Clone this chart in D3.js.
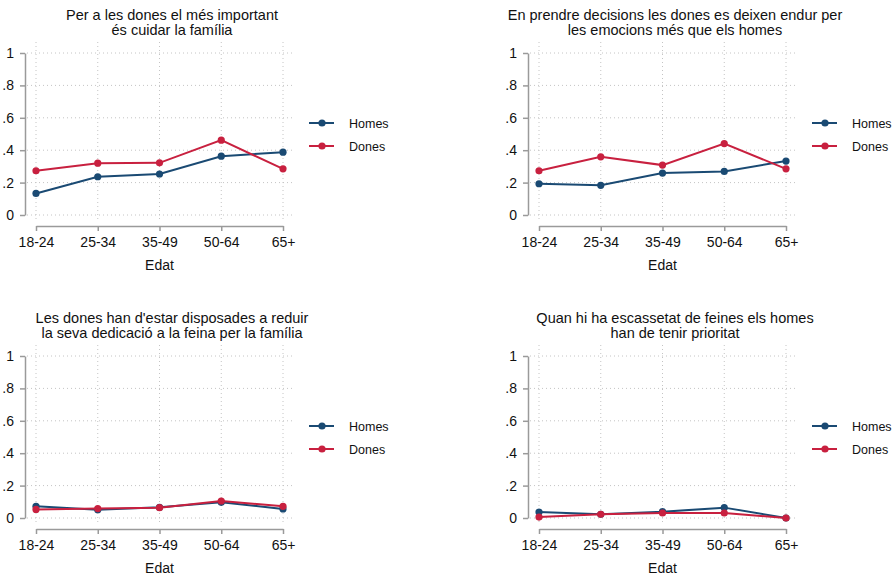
<!DOCTYPE html>
<html>
<head>
<meta charset="utf-8">
<script src="https://cdn.jsdelivr.net/npm/d3@7"></script>
<style>
  body { margin: 0; background: #fff; }
  text { font-family: "Liberation Sans", Arial, sans-serif; fill: #111; }
</style>
</head>
<body>
<svg id="chart" width="895" height="576"></svg>
<script>
// age groups and y ticks
var edats = ["18-24", "25-34", "35-49", "50-64", "65+"];
var yTicks = [0, 0.2, 0.4, 0.6, 0.8, 1];
var seriesNames = ["Homes", "Dones"];

var titles = [
  ["Per a les dones el més important", "és cuidar la família"],
  ["En prendre decisions les dones es deixen endur per", "les emocions més que els homes"],
  ["Les dones han d'estar disposades a reduir", "la seva dedicació a la feina per la família"],
  ["Quan hi ha escassetat de feines els homes", "han de tenir prioritat"]
];

// values
var homes = [
  [0.133, 0.236, 0.253, 0.363, 0.388],
  [0.193, 0.183, 0.259, 0.269, 0.333],
  [0.072, 0.051, 0.066, 0.097, 0.056],
  [0.037, 0.023, 0.039, 0.064, 0.000]
];
var dones = [
  [0.273, 0.320, 0.322, 0.462, 0.285],
  [0.273, 0.359, 0.308, 0.441, 0.285],
  [0.053, 0.058, 0.064, 0.105, 0.072],
  [0.006, 0.023, 0.031, 0.031, 0.000]
];

var colors = ["#1a4a73", "#c8203f"];
var axisGray = "#9a9a9a";

var svg = d3.select("#chart");

var x = d3.scalePoint().domain(edats).range([36, 283]);
var y = d3.scaleLinear().domain([0, 1]).range([215, 53]);

function fmt(d) {
  if (d === 0) return "0";
  if (d === 1) return "1";
  return String(d).replace(/^0/, "");
}

function drawPanel(i) {
  var dx = (i % 2) * 503, dy = Math.floor(i / 2) * 303;
  var g = svg.append("g").attr("transform", "translate(" + dx + "," + dy + ")");

  // title
  titles[i].forEach(function (line, k) {
    g.append("text")
      .attr("x", 172)
      .attr("y", 19.5 + k * 15.5)
      .attr("text-anchor", "middle")
      .style("font-size", "14.5px")
      .text(line);
  });

  // dotted grid
  g.append("g").selectAll("line.h")
    .data(yTicks)
    .enter().append("line")
    .attr("x1", 27).attr("x2", 292)
    .attr("y1", function (d) { return y(d); })
    .attr("y2", function (d) { return y(d); })
    .attr("stroke", "#c4c4c4")
    .attr("stroke-width", 1)
    .attr("stroke-dasharray", "1,3");
  g.append("g").selectAll("line.v")
    .data(edats)
    .enter().append("line")
    .attr("y1", 42).attr("y2", 222)
    .attr("x1", function (d) { return x(d); })
    .attr("x2", function (d) { return x(d); })
    .attr("stroke", "#c4c4c4")
    .attr("stroke-width", 1)
    .attr("stroke-dasharray", "1,3");

  // y axis
  var ya = g.append("g")
    .attr("transform", "translate(25,0)")
    .call(d3.axisLeft(y).tickValues(yTicks).tickFormat(fmt).tickSize(5).tickPadding(6).tickSizeOuter(0));
  // x axis
  var xa = g.append("g")
    .attr("transform", "translate(0,226)")
    .call(d3.axisBottom(x).tickSize(5).tickPadding(6).tickSizeOuter(0));

  [ya, xa].forEach(function (a) {
    a.select(".domain").attr("stroke", axisGray).attr("stroke-width", 1.5);
    a.selectAll(".tick line").attr("stroke", axisGray).attr("stroke-width", 1.5);
    a.selectAll(".tick text")
      .style("font-size", "14px")
      .style("font-family", "'Liberation Sans', Arial, sans-serif")
      .attr("fill", "#111");
  });

  g.append("text")
    .attr("x", x("35-49"))
    .attr("y", 270)
    .attr("text-anchor", "middle")
    .style("font-size", "14px")
    .text("Edat");

  // lines and markers
  var line = d3.line()
    .x(function (d, j) { return x(edats[j]); })
    .y(function (d) { return y(d); });

  [homes[i], dones[i]].forEach(function (vals, s) {
    g.append("path")
      .datum(vals)
      .attr("d", line)
      .attr("fill", "none")
      .attr("stroke", colors[s])
      .attr("stroke-width", 2);
    g.append("g").selectAll("circle")
      .data(vals)
      .enter().append("circle")
      .attr("cx", function (d, j) { return x(edats[j]); })
      .attr("cy", function (d) { return y(d); })
      .attr("r", 3.6)
      .attr("fill", colors[s]);
  });

  // legend
  seriesNames.forEach(function (name, s) {
    var ly = 123 + s * 23;
    g.append("line")
      .attr("x1", 309).attr("x2", 334)
      .attr("y1", ly).attr("y2", ly)
      .attr("stroke", colors[s]).attr("stroke-width", 2);
    g.append("circle")
      .attr("cx", 322).attr("cy", ly).attr("r", 3.6)
      .attr("fill", colors[s]);
    g.append("text")
      .attr("x", 349).attr("y", ly + 4.5)
      .style("font-size", "12.5px")
      .text(name);
  });
}

for (var i = 0; i < 4; i++) drawPanel(i);
</script>
</body>
</html>
